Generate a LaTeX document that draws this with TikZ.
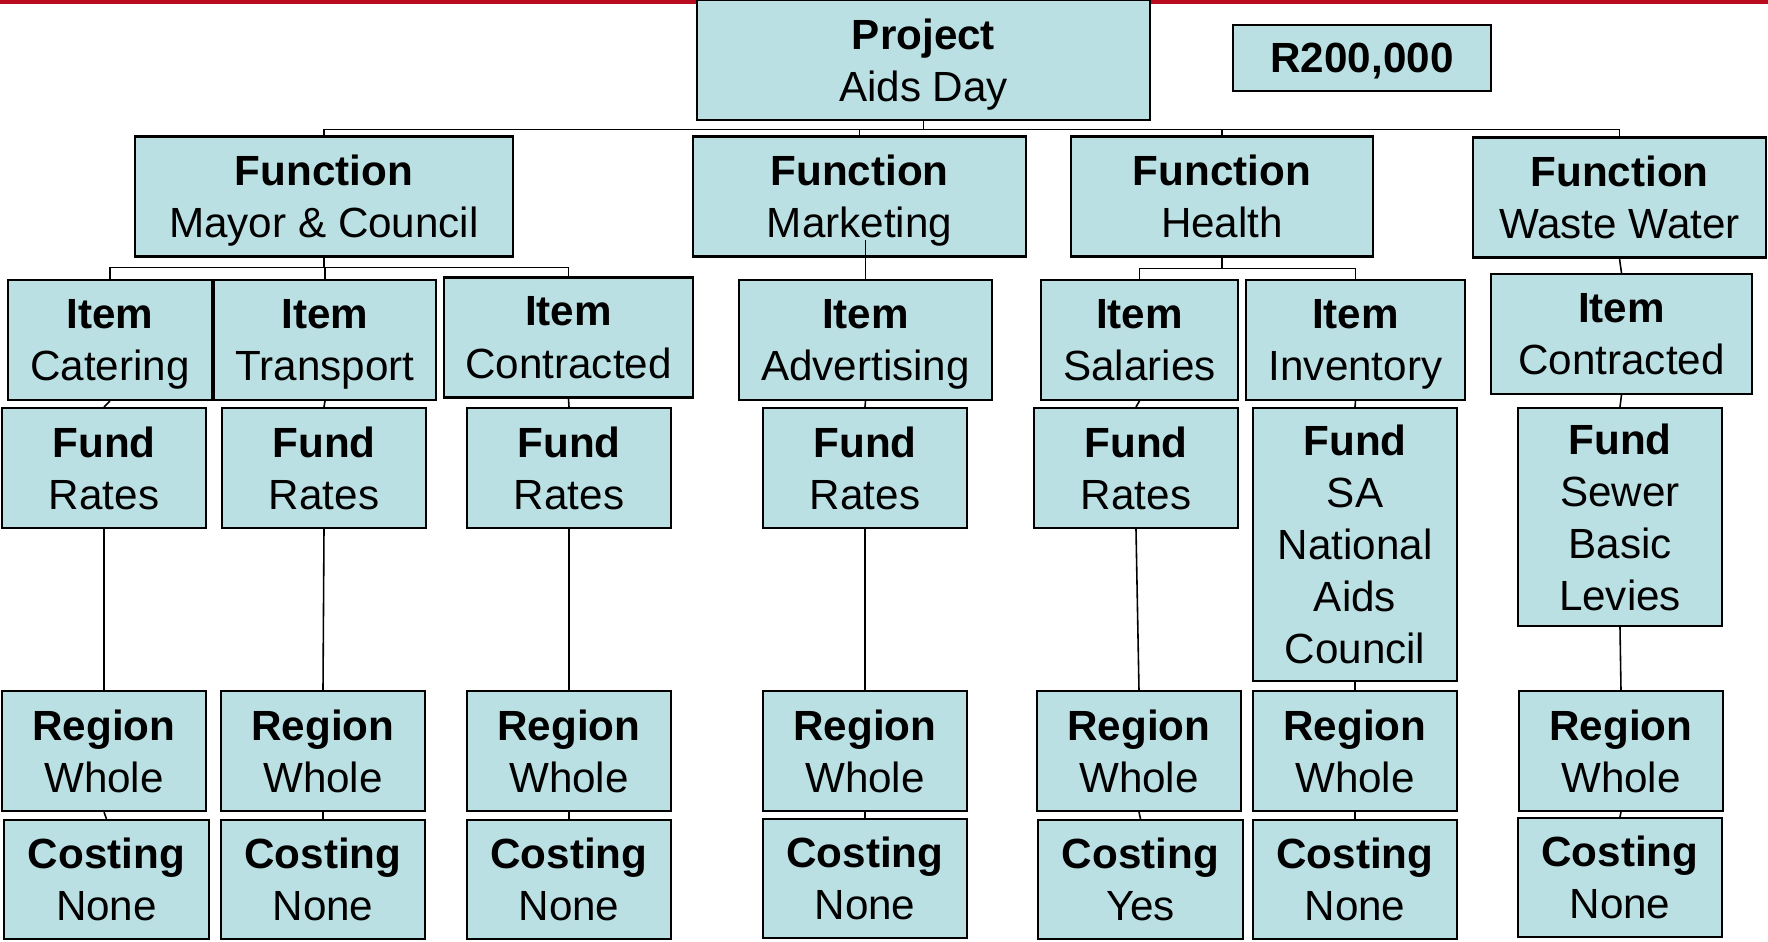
\documentclass[tikz,border=0pt]{standalone}
\usepackage{fontspec}
\setmainfont{Liberation Sans}
\usetikzlibrary{positioning}
\definecolor{boxfill}{HTML}{BBE0E3}
\definecolor{topred}{HTML}{B80C1E}

\begin{document}
\begin{tikzpicture}[
			x=0.01cm, y=-0.01cm,
			box/.style={
				rectangle,
				draw=black,
				line width=0.6pt,
				fill=boxfill,
				align=center,
				inner sep=0pt,
				text depth=-2.2pt,
				font=\fontsize{12}{14.8}\selectfont
			},
			level/.style={
				box,
				minimum height=1.2cm
			},
			link/.style={
				draw=black,
				line width=0.45pt
			}
			]
			
			\useasboundingbox (0,0) rectangle (1768,942);
			
			% Top bar
			
			\fill[topred] (0,0) rectangle (1768,4);
			
			% Project
			
			\node [level, minimum width=4.53cm] (proj) at (923.5,60) {\textbf{Project}\\Aids Day};
			\node [box, text depth=-4pt, minimum width=2.57cm, minimum height=0.66cm] (budget) at (1362,58) {\textbf{R200,000}};
			
			% Functions
			
			\node [level, minimum width=3.78cm] (fmayor) at (324,196.5) {\textbf{Function}\\Mayor \& Council};
			\node [level, minimum width=3.33cm] (fmkt) at (859.5,196.5) {\textbf{Function}\\Marketing};
			\node [level, minimum width=3.02cm] (fhealth) at (1222,196.5) {\textbf{Function}\\Health};
			\node [level, minimum width=2.93cm] (fwaste) at (1619.5,197.5) {\textbf{Function}\\Waste Water};
			
			% Items
			
			\node [level, minimum width=2.04cm] (icat) at (110,340) {\textbf{Item}\\Catering};
			\node [level, minimum width=2.22cm] (itrans) at (325,340) {\textbf{Item}\\Transport};
			\node [level, minimum width=2.49cm] (icon) at (568.5,337.5) {\textbf{Item}\\Contracted};
			\node [level, minimum width=2.53cm] (iadv) at (865.5,340) {\textbf{Item}\\Advertising};
			\node [level, minimum width=1.97cm] (isal) at (1139.5,340) {\textbf{Item}\\Salaries};
			\node [level, minimum width=2.19cm] (iinv) at (1355.5,340) {\textbf{Item}\\Inventory};
			\node [level, minimum width=2.61cm] (iww) at (1621.5,334) {\textbf{Item}\\Contracted};
			
			% Funds
			
			\node [level, minimum width=2.04cm] (fund1) at (104,468) {\textbf{Fund}\\Rates};
			\node [level, minimum width=2.04cm] (fund2) at (324,468) {\textbf{Fund}\\Rates};
			\node [level, minimum width=2.04cm] (fund3) at (569,468) {\textbf{Fund}\\Rates};
			\node [level, minimum width=2.04cm] (fund4) at (865,468) {\textbf{Fund}\\Rates};
			\node [level, minimum width=2.04cm] (fund5) at (1136,468) {\textbf{Fund}\\Rates};
			\node [level, minimum width=2.04cm, minimum height=2.73cm] (fund6) at (1355,544.5) {\textbf{Fund}\\SA\\National\\Aids\\Council};
			\node [level, minimum width=2.04cm, minimum height=2.18cm] (fund7) at (1620,517) {\textbf{Fund}\\Sewer\\Basic\\Levies};
			
			% Regions
			
			\node [level, minimum width=2.04cm] (reg1) at (104,751) {\textbf{Region}\\Whole};
			\node [level, minimum width=2.04cm] (reg2) at (323,751) {\textbf{Region}\\Whole};
			\node [level, minimum width=2.04cm] (reg3) at (569,751) {\textbf{Region}\\Whole};
			\node [level, minimum width=2.04cm] (reg4) at (865,751) {\textbf{Region}\\Whole};
			\node [level, minimum width=2.04cm] (reg5) at (1139,751) {\textbf{Region}\\Whole};
			\node [level, minimum width=2.04cm] (reg6) at (1355,751) {\textbf{Region}\\Whole};
			\node [level, minimum width=2.04cm] (reg7) at (1621,751) {\textbf{Region}\\Whole};
			
			% Costings
			
			\node [level, minimum width=2.04cm, minimum height=1.19cm] (cost1) at (106.5,879.5) {\textbf{Costing}\\None};
			\node [level, minimum width=2.04cm, minimum height=1.19cm] (cost2) at (323,879.5) {\textbf{Costing}\\None};
			\node [level, minimum width=2.04cm, minimum height=1.19cm] (cost3) at (569,879.5) {\textbf{Costing}\\None};
			\node [level, minimum width=2.04cm, minimum height=1.19cm] (cost4) at (865,878.5) {\textbf{Costing}\\None};
			\node [level, minimum width=2.04cm, minimum height=1.19cm] (cost5) at (1140.5,879.5) {\textbf{Costing}\\Yes};
			\node [level, minimum width=2.04cm, minimum height=1.19cm] (cost6) at (1355,879.5) {\textbf{Costing}\\None};
			\node [level, minimum width=2.04cm, minimum height=1.19cm] (cost7) at (1620,877.5) {\textbf{Costing}\\None};
			
			% Connections
			
			\foreach \f in {fmayor, fmkt, fhealth, fwaste}
				\draw [link] (proj.south) -- ++(0,8.5) -| (\f.north);
			
			\foreach \i in {icat, itrans, icon}
				\draw [link] (fmayor.south) -- ++(0,10) -| (\i.north);
			
			\draw [link] (iadv.north) -- ++(0,-39);
			
			\foreach \i in {isal, iinv}
				\draw [link] (fhealth.south) -- ++(0,11) -| (\i.north);
			
			\draw [link] (fwaste.south) -- (iww.north);
			
			\foreach \i/\f in {icat/fund1, itrans/fund2, icon/fund3, iadv/fund4, isal/fund5, iinv/fund6, iww/fund7}
				\draw [link] (\i.south) -- (\f.north);
			
			\foreach \f/\r in {fund1/reg1, fund2/reg2, fund3/reg3, fund4/reg4, fund5/reg5, fund6/reg6, fund7/reg7}
				\draw [link] (\f.south) -- (\r.north);
			
			\foreach \r/\c in {reg1/cost1, reg2/cost2, reg3/cost3, reg4/cost4, reg5/cost5, reg6/cost6, reg7/cost7}
				\draw [link] (\r.south) -- (\c.north);
			
		\end{tikzpicture}
\end{document}
